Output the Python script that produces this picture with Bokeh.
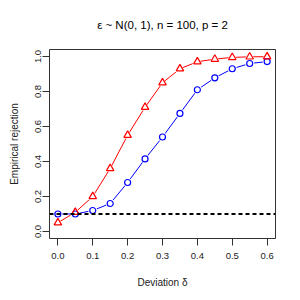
from bokeh.plotting import figure
from bokeh.embed import file_html
from bokeh.resources import INLINE
from bokeh.layouts import column
from bokeh.core.properties import value
from bokeh.models import FixedTicker, PrintfTickFormatter, Range1d, Span

delta = [0.0, 0.05, 0.1, 0.15, 0.2, 0.25, 0.3, 0.35, 0.4, 0.45, 0.5, 0.55, 0.6]
rej_red = [0.05, 0.11, 0.20, 0.36, 0.55, 0.71, 0.85, 0.93, 0.97, 0.985, 0.995, 0.998, 0.999]
rej_blue = [0.10, 0.10, 0.12, 0.16, 0.28, 0.415, 0.54, 0.675, 0.81, 0.878, 0.93, 0.96, 0.971]
alpha_level = 0.1
x_ticks = [0.0, 0.1, 0.2, 0.3, 0.4, 0.5, 0.6]
y_ticks = [0.0, 0.2, 0.4, 0.6, 0.8, 1.0]
title_text = "\u03b5 ~ N(0, 1), n = 100, p = 2"
xlab = "Deviation \u03b4"
ylab = "Empirical rejection"

FONT = "Liberation Sans"

# title strip
tfig = figure(width=292, height=36, output_backend="svg", toolbar_location=None,
              x_range=Range1d(0, 1), y_range=Range1d(0, 1))
tfig.min_border_left = 49
tfig.min_border_right = 17
tfig.min_border_top = 0
tfig.min_border_bottom = 0
tfig.axis.visible = False
tfig.grid.visible = False
tfig.outline_line_color = None
tfig.text(x=[0.5], y=[0.31], text=[title_text], text_font=value(FONT),
          text_font_size="11.5px", text_align="center", text_baseline="middle",
          text_color="#000000")

fig = figure(width=292, height=256, output_backend="svg", toolbar_location=None,
             x_range=Range1d(-0.024, 0.624), y_range=Range1d(-0.04, 1.04))
fig.min_border_left = 49
fig.min_border_right = 17
fig.min_border_top = 13
fig.min_border_bottom = 54
fig.grid.visible = False
fig.outline_line_color = "#333333"
fig.outline_line_width = 1

for ax in (fig.xaxis[0], fig.yaxis[0]):
    ax.axis_line_color = None
    ax.major_tick_out = 7
    ax.major_tick_in = 0
    ax.minor_tick_line_color = None
    ax.major_tick_line_color = "#333333"
    ax.major_label_text_font = FONT
    ax.major_label_text_font_size = "9.5px"
    ax.major_label_text_color = "#222222"
    ax.axis_label_text_font = FONT
    ax.axis_label_text_font_size = "10px"
    ax.axis_label_text_font_style = "normal"
    ax.axis_label_text_color = "#222222"
    ax.formatter = PrintfTickFormatter(format="%.1f")

fig.xaxis[0].ticker = FixedTicker(ticks=x_ticks)
fig.yaxis[0].ticker = FixedTicker(ticks=y_ticks)
fig.xaxis[0].axis_label = xlab
fig.yaxis[0].axis_label = ylab
fig.yaxis[0].major_label_orientation = "vertical"
fig.xaxis[0].major_label_standoff = 7
fig.xaxis[0].axis_label_standoff = 15
fig.yaxis[0].major_label_standoff = 2
fig.yaxis[0].axis_label_standoff = 12

fig.add_layout(Span(location=alpha_level, dimension="width", line_color="black",
                    line_width=2, line_dash="4 3"))

fig.line(delta, rej_blue, line_color="blue", line_width=1)
fig.line(delta, rej_red, line_color="red", line_width=1)

fig.scatter(delta, rej_blue, marker="circle", size=9, fill_color="white", line_color=None)
fig.scatter(delta, rej_red, marker="triangle", size=11, fill_color="white", line_color=None)
fig.scatter(delta, rej_blue, marker="circle", size=6, fill_color=None, line_color="blue", line_width=1.2)
fig.scatter(delta, rej_red, marker="triangle", size=7.5, fill_color=None, line_color="red", line_width=1.2)

p = column(tfig, fig, spacing=0)

open("out.html", "w").write(file_html(p, INLINE))
